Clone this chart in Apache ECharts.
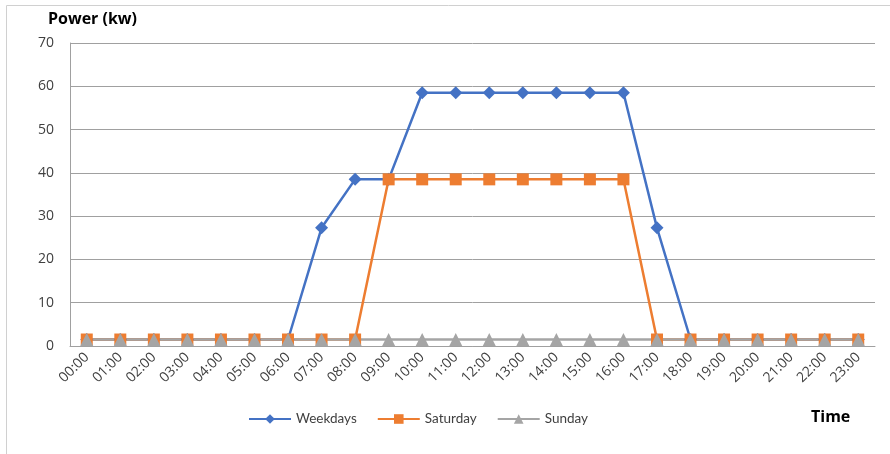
<!DOCTYPE html>
<html>
<head>
<meta charset="utf-8">
<script src="https://cdn.jsdelivr.net/npm/echarts@6/dist/echarts.min.js"></script>
<style>
    html, body { margin: 0; padding: 0; background: #fff; }
    #chart { width: 890px; height: 454px; }
</style>
</head>
<body>
<div id="chart"></div>
<script>
    // hourly categories
    var hours = ['00:00','01:00','02:00','03:00','04:00','05:00','06:00','07:00','08:00','09:00','10:00','11:00',
                 '12:00','13:00','14:00','15:00','16:00','17:00','18:00','19:00','20:00','21:00','22:00','23:00']
    var weekdays = [1.5,1.5,1.5,1.5,1.5,1.5,1.5,27.3,38.5,38.5,58.5,58.5,58.5,58.5,58.5,58.5,58.5,27.3,1.5,1.5,1.5,1.5,1.5,1.5]
    var saturday = [1.5,1.5,1.5,1.5,1.5,1.5,1.5,1.5,1.5,38.5,38.5,38.5,38.5,38.5,38.5,38.5,38.5,1.5,1.5,1.5,1.5,1.5,1.5,1.5]
    var sunday   = [1.5,1.5,1.5,1.5,1.5,1.5,1.5,1.5,1.5,1.5,1.5,1.5,1.5,1.5,1.5,1.5,1.5,1.5,1.5,1.5,1.5,1.5,1.5,1.5]
    var yTicks = [0, 10, 20, 30, 40, 50, 60, 70]

    var font = '"Open Sans", "Noto Sans", sans-serif'
    var chart = echarts.init(document.getElementById('chart'))

    function line(name, data, color, symbol, size) {
        return {
            name: name,
            type: 'line',
            data: data,
            symbol: symbol,
            symbolSize: size,
            lineStyle: { color: color, width: 2.5 },
            itemStyle: { color: color },
            emphasis: { disabled: true }
        }
    }

    chart.setOption({
        animation: false,
        graphic: [
            { type: 'rect', shape: { x: 6.5, y: 5.5, width: 900, height: 460 },
              style: { fill: 'none', stroke: '#d0d0d0', lineWidth: 1 } },
            { type: 'text', left: 48, top: 11,
              style: { text: 'Power (kw)', font: 'bold 16px ' + font, fill: '#000' } },
            { type: 'text', left: 811, top: 409,
              style: { text: 'Time', font: 'bold 16px ' + font, fill: '#000' } }
        ],
        grid: { left: 70, right: 15, top: 43, bottom: 108 },
        legend: {
            bottom: 28,
            left: 248,
            padding: 0,
            itemGap: 20,
            itemWidth: 42,
            itemHeight: 12,
            textStyle: { fontFamily: 'Lato, sans-serif', fontSize: 13.5, color: '#404040' },
            data: [
                { name: 'Weekdays' },
                { name: 'Saturday' },
                { name: 'Sunday' }
            ]
        },
        xAxis: {
            type: 'category',
            data: hours,
            boundaryGap: true,
            axisLine: { lineStyle: { color: '#a0a0a0', width: 1 } },
            axisTick: { show: false },
            axisLabel: { rotate: 45, interval: 0, fontFamily: font, fontSize: 14, color: '#404040', margin: 9 }
        },
        yAxis: {
            type: 'value',
            min: yTicks[0],
            max: yTicks[yTicks.length - 1],
            interval: 10,
            axisLine: { show: true, lineStyle: { color: '#a0a0a0', width: 1 } },
            axisTick: { show: false },
            splitLine: { lineStyle: { color: '#a0a0a0', width: 1 } },
            axisLabel: { fontFamily: font, fontSize: 14, color: '#404040', margin: 16 }
        },
        series: [
            line('Weekdays', weekdays, '#4472c4', 'diamond', 13),
            line('Saturday', saturday, '#ed7d31', 'rect', 12),
            line('Sunday', sunday, '#a5a5a5', 'triangle', 13)
        ]
    })
</script>
</body>
</html>
